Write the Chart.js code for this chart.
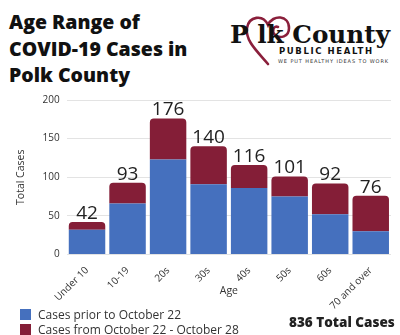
<!DOCTYPE html>
<html>
<head>
<meta charset="utf-8">
<script src="https://cdn.jsdelivr.net/npm/chart.js@4.4.0/dist/chart.umd.min.js"></script>
<style>
  body { margin: 0; width: 400px; height: 335px; background: #fff; font-family: "Open Sans", sans-serif; position: relative; overflow: hidden; }
  #title { position: absolute; left: 9px; top: 9px; font-size: 19.5px; font-weight: 800; line-height: 26.5px; color: #111; }
  #logo { position: absolute; left: 228px; top: 10px; width: 170px; height: 60px; }
  #wrap { position: absolute; left: 0; top: 87px; width: 400px; height: 227px; }
  .leg { position: absolute; left: 20px; font-size: 12px; color: #333; display: flex; align-items: center; }
  .leg span.sw { display: inline-block; width: 11px; height: 11px; margin-right: 7px; }
  #total { position: absolute; left: 289px; top: 313px; font-size: 13.5px; font-weight: 800; color: #222; }
</style>
</head>
<body>
<div id="title">Age Range of<br>COVID-19 Cases in<br>Polk County</div>

<svg id="logo" viewBox="0 0 170 60">
  <!-- heart swirl -->
  <path d="M40 54 C30 42 17 31 19 18 C21 6 35 4 40 15 C45 4 61 5 61 18 C61 27 52 29 47 25 C43 21 46 15 50 17"
        fill="none" stroke="#8a1f3b" stroke-width="2.6" stroke-linecap="round"/>
  <text x="2" y="33" font-family="DejaVu Serif" font-weight="bold" font-size="25" fill="#111" textLength="160" lengthAdjust="spacingAndGlyphs">P  lk County</text>
  <text x="51" y="44" font-family="DejaVu Sans" font-weight="bold" font-size="8.5" fill="#111" letter-spacing="1.6">PUBLIC HEALTH</text>
  <text x="50" y="53" font-family="DejaVu Sans" font-size="5" fill="#333" letter-spacing="0.9">WE PUT HEALTHY IDEAS TO WORK</text>
</svg>

<div id="wrap"><canvas id="chart"></canvas></div>

<div class="leg" style="top:306px"><span class="sw" style="background:#4570be"></span>Cases prior to October 22</div>
<div class="leg" style="top:321px"><span class="sw" style="background:#841e37"></span>Cases from October 22 - October 28</div>
<div id="total">836 Total Cases</div>

<script>
  // data
  const ageGroups = ["Under 10", "10-19", "20s", "30s", "40s", "50s", "60s", "70 and over"];
  const priorCases = [32, 66, 123, 91, 86, 75, 52, 30];
  const newCases = [10, 27, 53, 49, 30, 26, 40, 46];
  const yTicks = [0, 50, 100, 150, 200];

  // totals above each stack, plus the "Age" axis caption tucked between the rotated labels
  const totalsPlugin = {
    id: "totals",
    afterDatasetsDraw(chart) {
      const ctx = chart.ctx;
      const meta = chart.getDatasetMeta(1);
      ctx.save();
      ctx.font = "19px 'Open Sans'";
      ctx.fillStyle = "#222";
      ctx.textAlign = "center";
      ctx.textBaseline = "bottom";
      meta.data.forEach(function (bar, i) {
        ctx.fillText(priorCases[i] + newCases[i], bar.x, bar.y + 1);
      });
      ctx.restore();
    },
    afterDraw(chart) {
      const ctx = chart.ctx;
      const area = chart.chartArea;
      ctx.save();
      ctx.font = "10.5px 'Open Sans'";
      ctx.fillStyle = "#333";
      ctx.textAlign = "center";
      ctx.textBaseline = "middle";
      ctx.fillText("Age", (area.left + area.right) / 2, area.bottom + 36);
      ctx.restore();
    },
  };

  const ctx = document.getElementById("chart").getContext("2d");
  new Chart(ctx, {
    type: "bar",
    data: {
      labels: ageGroups,
      datasets: [
        {
          label: "Cases prior to October 22",
          data: priorCases,
          backgroundColor: "#4570be",
          categoryPercentage: 1,
          barPercentage: 0.9,
        },
        {
          label: "Cases from October 22 - October 28",
          data: newCases,
          backgroundColor: "#841e37",
          borderRadius: { topLeft: 4, topRight: 4, bottomLeft: 0, bottomRight: 0 },
          borderSkipped: false,
          categoryPercentage: 1,
          barPercentage: 0.9,
        },
      ],
    },
    options: {
      responsive: true,
      maintainAspectRatio: false,
      animation: false,
      layout: { padding: { top: 10, right: 9, left: 11, bottom: 0 } },
      plugins: {
        legend: { display: false },
        tooltip: { enabled: false },
      },
      scales: {
        x: {
          stacked: true,
          grid: { display: false },
          border: { display: false },
          ticks: {
            minRotation: 45,
            maxRotation: 45,
            padding: 2,
            color: "#333",
            font: { family: "Open Sans", size: 10 },
          },
        },
        y: {
          stacked: true,
          min: 0,
          max: 200,
          afterBuildTicks(scale) {
            scale.ticks = yTicks.map(function (v) { return { value: v }; });
          },
          grid: { color: "#e3e3e3", drawTicks: false },
          border: { display: false },
          ticks: {
            padding: 7,
            color: "#333",
            font: { family: "Open Sans", size: 10 },
          },
          title: {
            display: true,
            text: "Total Cases",
            color: "#333",
            padding: { top: 4, bottom: 8 },
            font: { family: "Open Sans", size: 10.5 },
          },
        },
      },
    },
    plugins: [totalsPlugin],
  });
</script>
</body>
</html>
